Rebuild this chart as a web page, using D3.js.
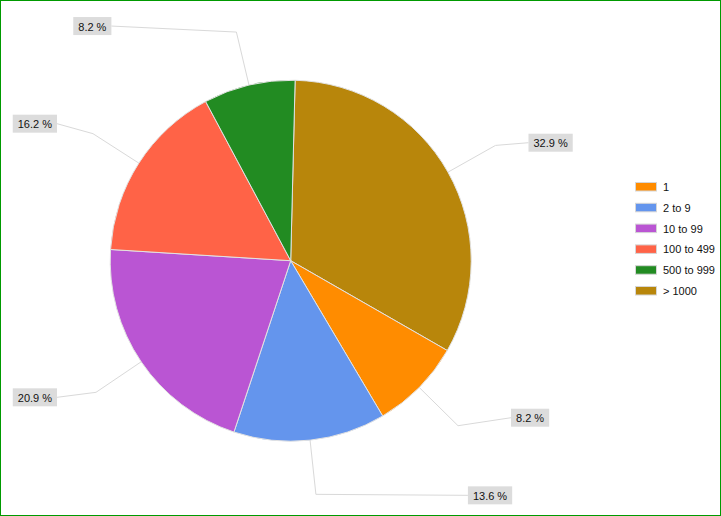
<!DOCTYPE html>
<html>
<head>
<meta charset="utf-8">
<script src="https://cdn.jsdelivr.net/npm/d3@7"></script>
<style>
  html, body { margin: 0; padding: 0; background: #fff; }
  svg { display: block; font-family: "Liberation Sans", Arial, sans-serif; }
</style>
</head>
<body>
<svg id="chart" width="721" height="516"></svg>
<script>
// ---- data ----
const categories = ["1", "2 to 9", "10 to 99", "100 to 499", "500 to 999", "> 1000"];
const shares = [8.2, 13.6, 20.9, 16.2, 8.2, 32.9];
const colors = ["#FF8C00", "#6495ED", "#BA55D3", "#FF6347", "#228B22", "#B8860B"];

// ---- layout ----
const W = 721, H = 516;
const cx = 290.7, cy = 260.7, R = 180.5, Rbend = 235;
const rotationDeg = 1.4;            // first slice (> 1000) starts slightly right of top
// label box nudges relative to the leader-line bend point
const labelNudge = {
  "1": [53, -8], "2 to 9": [152, 1], "10 to 99": [-39, 5],
  "100 to 499": [-36, -10], "500 to 999": [-125, -6], "> 1000": [33, -2.7]
};

const svg = d3.select("#chart");
svg.append("rect").attr("x", 0.5).attr("y", 0.5).attr("width", W - 1).attr("height", H - 1)
  .attr("fill", "#fff").attr("stroke", "#009a00").attr("stroke-width", 1);

const items = categories.map((c, i) => ({ cat: c, value: shares[i], color: colors[i] }));
// drawing order clockwise from top: last category first, then the rest
const ordered = [items[items.length - 1], ...items.slice(0, -1)];
const rot = rotationDeg * Math.PI / 180;
const pie = d3.pie().sort(null).value(d => d.value).startAngle(rot).endAngle(rot + 2 * Math.PI);
const arcs = pie(ordered);
const arc = d3.arc().innerRadius(0).outerRadius(R);

const g = svg.append("g").attr("transform", `translate(${cx},${cy})`);
g.selectAll("path.slice").data(arcs).join("path")
  .attr("class", "slice")
  .attr("d", arc)
  .attr("fill", d => d.data.color)
  .attr("stroke", "#e2e2e2")
  .attr("stroke-width", 1);

// leader lines and labels
const pt = (a, r) => [Math.sin(a) * r, -Math.cos(a) * r];
const labels = svg.append("g").attr("transform", `translate(${cx},${cy})`);
arcs.forEach(d => {
  const mid = (d.startAngle + d.endAngle) / 2;
  const p0 = pt(mid, R);
  const p1 = pt(mid, Rbend);
  const nudge = labelNudge[d.data.cat];
  const right = nudge[0] > 0;
  const p2 = [p1[0] + nudge[0], p1[1] + nudge[1]];
  labels.append("path")
    .attr("d", d3.line()([p0, p1, p2]))
    .attr("fill", "none").attr("stroke", "#d9d9d9").attr("stroke-width", 1);
  const lg = labels.append("g");
  const t = lg.append("text")
    .attr("font-size", 11).attr("fill", "#111")
    .attr("dominant-baseline", "central")
    .text(d3.format(".1f")(d.data.value) + " %");
  const tw = t.node().getComputedTextLength();
  const bw = tw + 10, bh = 18;
  const bx = right ? p2[0] : p2[0] - bw;
  const by = p2[1] - bh / 2;
  lg.insert("rect", "text").attr("x", bx).attr("y", by).attr("width", bw).attr("height", bh)
    .attr("fill", "#dcdcdc");
  t.attr("x", bx + 5).attr("y", p2[1] + 0.5);
});

// legend
const legend = svg.append("g").attr("transform", "translate(635,182)");
const rowH = 20.8;
const lrow = legend.selectAll("g").data(items).join("g")
  .attr("transform", (d, i) => `translate(0,${i * rowH})`);
lrow.append("rect").attr("x", 0.5).attr("y", 0.5).attr("width", 21).attr("height", 8.5)
  .attr("fill", d => d.color).attr("stroke", "#d6d6d6").attr("stroke-width", 1);
lrow.append("text").attr("x", 28).attr("y", 5).attr("dominant-baseline", "central")
  .attr("font-size", 11).attr("fill", "#111").text(d => d.cat);
</script>
</body>
</html>
